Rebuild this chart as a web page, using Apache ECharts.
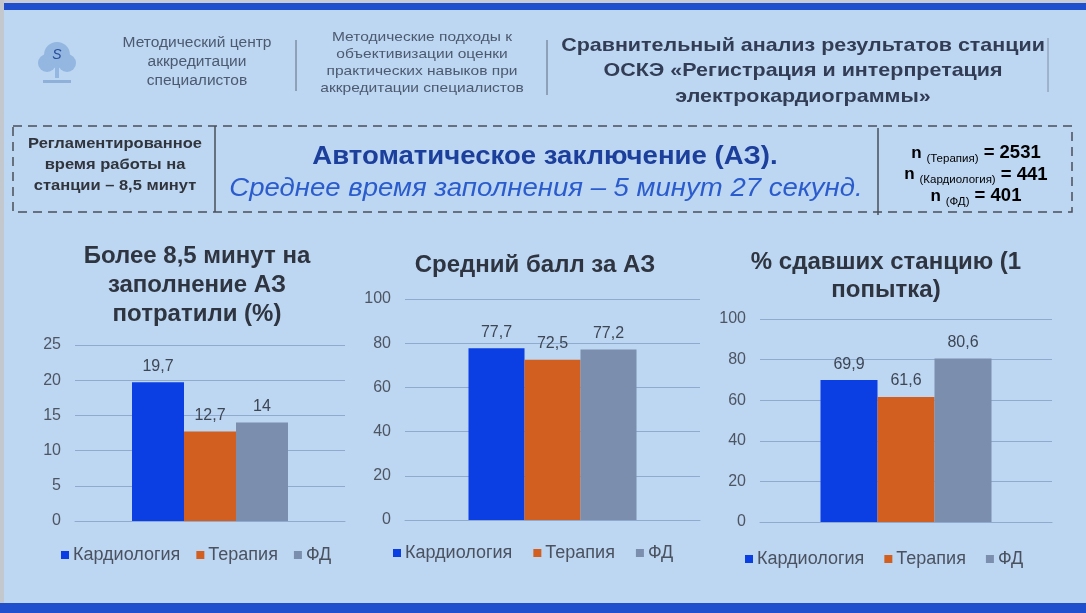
<!DOCTYPE html>
<html>
<head>
<meta charset="utf-8">
<script src="https://cdn.jsdelivr.net/npm/echarts@6/dist/echarts.min.js"></script>
<style>
  html, body { margin: 0; padding: 0; background: #bdd6f1; }
  #main { width: 1086px; height: 613px; }
</style>
</head>
<body>
<div id="main"></div>
<script>
const departments = ['Кардиология', 'Терапия', 'ФД'];
const deptColors = ['#0b3fe3', '#d25f1f', '#7b8eae'];

// Более 8,5 минут на заполнение АЗ потратили (%)
const overTimeShare = [19.7, 12.7, 14];
// Средний балл за АЗ
const avgScore = [77.7, 72.5, 77.2];
// % сдавших станцию (1 попытка)
const passShare = [69.9, 61.6, 80.6];

const axis1 = { min: 0, max: 25, interval: 5 };
const axis2 = { min: 0, max: 100, interval: 20 };
const axis3 = { min: 0, max: 100, interval: 20 };

const sampleSizes = [['Терапия', 2531], ['Кардиология', 441], ['ФД', 401]];

const chart = echarts.init(document.getElementById('main'));

const FONT = '"Liberation Sans", Arial, sans-serif';
const comma = (v) => String(v).replace('.', ',');

const grids = [
  { left: 75, top: 345, width: 270, height: 176 },
  { left: 405, top: 299, width: 295, height: 221 },
  { left: 760, top: 319, width: 292, height: 203 },
];
const barWidths = [52, 56, 57];
const datasets = [overTimeShare, avgScore, passShare];
const yAxes = [axis1, axis2, axis3];

function makeSeries(gi) {
  return departments.map((name, i) => ({
    name,
    type: 'bar',
    xAxisIndex: gi,
    yAxisIndex: gi,
    data: [datasets[gi][i]],
    barWidth: barWidths[gi],
    barGap: '0%',
    itemStyle: { color: deptColors[i] },
    label: {
      show: true,
      position: 'top',
      distance: 8,
      fontFamily: FONT,
      fontSize: 16,
      color: '#3d4654',
      formatter: (p) => comma(p.value),
    },
  }));
}

const legends = [
  { left: 56, top: 541, itemGap: 16 },
  { left: 388, top: 539, itemGap: 21 },
  { left: 740, top: 545, itemGap: 20 },
].map((pos) => ({
  ...pos,
  data: departments,
  icon: 'rect',
  itemWidth: 8,
  itemHeight: 8,
  textStyle: { fontFamily: FONT, fontSize: 18, color: '#4a5260', padding: [0, 0, 0, -1] },
}));

const headerColor = '#4c5a70';
const titleStyle = { fontFamily: FONT, fontSize: 24, fontWeight: 'bold', color: '#2e3440' };

const option = {
  backgroundColor: '#bdd6f1',
  animation: false,
  title: [
    { text: 'Более 8,5 минут на\nзаполнение АЗ\nпотратили (%)', left: 192, top: 237, textAlign: 'center',
      textStyle: { ...titleStyle, lineHeight: 29 } },
    { text: 'Средний балл за АЗ', left: 530, top: 248, textAlign: 'center',
      textStyle: titleStyle },
    { text: '% сдавших станцию (1\nпопытка)', left: 881, top: 243, textAlign: 'center',
      textStyle: { ...titleStyle, lineHeight: 28 } },
  ],
  legend: legends,
  grid: grids,
  xAxis: grids.map((g, gi) => ({
    type: 'category',
    gridIndex: gi,
    data: [''],
    axisLine: { show: true, lineStyle: { color: '#8eaad0' } },
    axisTick: { show: false },
    axisLabel: { show: false },
  })),
  yAxis: yAxes.map((a, gi) => ({
    type: 'value',
    gridIndex: gi,
    min: a.min,
    max: a.max,
    interval: a.interval,
    axisLine: { show: false },
    axisTick: { show: false },
    axisLabel: { fontFamily: FONT, fontSize: 16, color: '#4d5563', margin: 14 },
    splitLine: { lineStyle: { color: '#8eaad0', width: 1 } },
  })),
  series: [0, 1, 2].flatMap(makeSeries),
  graphic: [
    // frame edges
    { type: 'rect', shape: { x: 0, y: 0, width: 1086, height: 3 }, style: { fill: '#c9ccd2' } },
    { type: 'rect', shape: { x: 0, y: 3, width: 1086, height: 7 }, style: { fill: '#1f4fcc' } },
    { type: 'rect', shape: { x: 0, y: 603, width: 1086, height: 10 }, style: { fill: '#1f4fcc' } },
    { type: 'rect', shape: { x: 0, y: 0, width: 4, height: 603 }, style: { fill: '#c3c8cf' } },

    // logo
    { type: 'circle', shape: { cx: 57, cy: 55, r: 13 }, style: { fill: '#93b7e0' } },
    { type: 'circle', shape: { cx: 47, cy: 63, r: 9 }, style: { fill: '#93b7e0' } },
    { type: 'circle', shape: { cx: 67, cy: 63, r: 9 }, style: { fill: '#93b7e0' } },
    { type: 'rect', shape: { x: 55, y: 66, width: 4, height: 12 }, style: { fill: '#93b7e0' } },
    { type: 'text', x: 57, y: 55, style: { text: 'S', fontFamily: FONT, fontStyle: 'italic', fontSize: 14, fill: '#2a4f9a', align: 'center', verticalAlign: 'middle' } },
    { type: 'rect', shape: { x: 43, y: 80, width: 28, height: 3 }, style: { fill: '#8fb0d9' } },

    // header texts
    { type: 'text', x: 197, y: 62, scaleX: 1.11, style: { text: 'Методический центр\nаккредитации\nспециалистов', fontFamily: FONT, fontSize: 14, lineHeight: 19, fill: headerColor, align: 'center', verticalAlign: 'middle' } },
    { type: 'line', shape: { x1: 296, y1: 40, x2: 296, y2: 91 }, style: { stroke: '#6e7d93', lineWidth: 1.2 } },
    { type: 'text', x: 422, y: 63, scaleX: 1.15, style: { text: 'Методические подходы к\nобъективизации оценки\nпрактических навыков при\nаккредитации специалистов', fontFamily: FONT, fontSize: 13.5, lineHeight: 17, fill: headerColor, align: 'center', verticalAlign: 'middle' } },
    { type: 'line', shape: { x1: 547, y1: 40, x2: 547, y2: 95 }, style: { stroke: '#6e7d93', lineWidth: 1.2 } },
    { type: 'text', x: 803, y: 71, scaleX: 1.13, style: { text: 'Сравнительный анализ результатов станции\nОСКЭ «Регистрация и интерпретация\nэлектрокардиограммы»', fontFamily: FONT, fontSize: 19, fontWeight: 'bold', lineHeight: 25.5, fill: '#323d55', align: 'center', verticalAlign: 'middle' } },
    { type: 'line', shape: { x1: 1048, y1: 38, x2: 1048, y2: 92 }, style: { stroke: '#8090a6', lineWidth: 1 } },

    // dashed info box
    { type: 'rect', shape: { x: 13, y: 126, width: 1059, height: 86 }, style: { fill: 'none', stroke: '#4a4f58', lineWidth: 1.5, lineDash: [9, 6] } },
    { type: 'line', shape: { x1: 215, y1: 126, x2: 215, y2: 212 }, style: { stroke: '#4a4f58', lineWidth: 1.5 } },
    { type: 'line', shape: { x1: 878, y1: 128, x2: 878, y2: 215 }, style: { stroke: '#4a4f58', lineWidth: 1.5 } },

    { type: 'text', x: 115, y: 165, scaleX: 1.1, style: { text: 'Регламентированное\nвремя работы на\nстанции – 8,5 минут', fontFamily: FONT, fontSize: 15, fontWeight: 'bold', lineHeight: 21, fill: '#30343c', align: 'center', verticalAlign: 'middle' } },
    { type: 'text', x: 545, y: 157, scaleX: 1.06, style: { text: 'Автоматическое заключение (АЗ).', fontFamily: FONT, fontSize: 26, fontWeight: 'bold', fill: '#1c3f9c', align: 'center', verticalAlign: 'middle' } },
    { type: 'text', x: 546, y: 189, scaleX: 1.06, style: { text: 'Среднее время заполнения – 5 минут 27 секунд.', fontFamily: FONT, fontSize: 26, fontStyle: 'italic', fill: '#2b5ccd', align: 'center', verticalAlign: 'middle' } },

    ...sampleSizes.map(([name, n], i) => ({
      type: 'text', x: 976, y: 153 + i * 21.5,
      style: {
        text: '{n|n }{s|(' + name + ')}{v| = ' + n + '}',
        align: 'center', verticalAlign: 'middle',
        rich: {
          n: { fontFamily: FONT, fontSize: 17, fontWeight: 'bold', color: '#30343c' },
          s: { fontFamily: FONT, fontSize: 11.5, color: '#30343c', padding: [11, 0, 0, 0] },
          v: { fontFamily: FONT, fontSize: 18.5, fontWeight: 'bold', color: '#30343c' },
        },
      },
    })),
  ],
};

chart.setOption(option);
</script>
</body>
</html>
